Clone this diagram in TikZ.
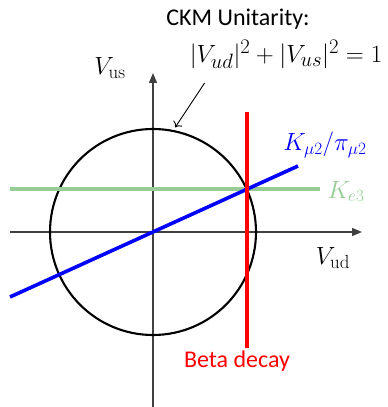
\documentclass[tikz,border=0pt]{standalone}
\usepackage{fontspec}
\setsansfont{Carlito}
\usepackage{tikz}
\usetikzlibrary{arrows.meta, positioning, calc}
\definecolor{keGreen}{RGB}{150,205,150}
\definecolor{axisGray}{RGB}{64,64,64}

\begin{document}
\begin{tikzpicture}[
        x=1pt, y=1pt,
        axis/.style={draw=axisGray, line width=1.3pt, -{Triangle[length=10pt, width=8pt]}},
        unit/.style={draw=black, line width=2.1pt},
        meas/.style={line width=3.6pt},
        lbl/.style={anchor=base, inner sep=0pt},
        txt/.style={lbl, font=\sffamily\fontsize{24}{28}\selectfont}
    ]
        \useasboundingbox (-153,-175) rectangle (235,232);
        \coordinate (O) at (0,0);

        % Axes
        \draw[axis] (-143,0) -- (209,0);
        \draw[axis] (0,-175) -- (0,159);
        \node[lbl, font=\fontsize{27}{30}\selectfont] (vud) at (180,-32) {$V_{\mathrm{ud}}$};
        \node[lbl, font=\fontsize{27}{30}\selectfont] (vus) at (-43,157) {$V_{\mathrm{us}}$};

        % Unitarity circle
        \draw[unit] (O) circle (103);

        % Constraints
        \draw[meas, keGreen] (-143,43) -- (167,43) coordinate (ke3end);
        \draw[meas, blue] (-143,-65) -- (145,66) coordinate (kmuend);
        \draw[meas, red] (94,120) -- (94,-116) coordinate (betaend);
        \node[lbl, keGreen, font=\fontsize{25}{28}\selectfont] (ke3) at (193,34) {$K_{e3}$};
        \node[lbl, blue, font=\fontsize{24}{28}\selectfont] (kmu) at (172,81) {$K_{\mu2}/\pi_{\mu2}$};
        \node[txt, red] (beta) at (84,-135) {Beta decay};

        % Unitarity label
        \node[txt] (title) at (85,206) {CKM Unitarity:};
        \node[lbl, font=\fontsize{30}{34}\selectfont] (formula) at (133,169) {$|V_{ud}|^2+|V_{us}|^2=1$};
        \coordinate (tip) at (78:107);
        \draw[line width=0.9pt, -{To[length=5pt]}] ([xshift=15pt, yshift=-20pt]formula.base west) -- (tip);
    \end{tikzpicture}
\end{document}
